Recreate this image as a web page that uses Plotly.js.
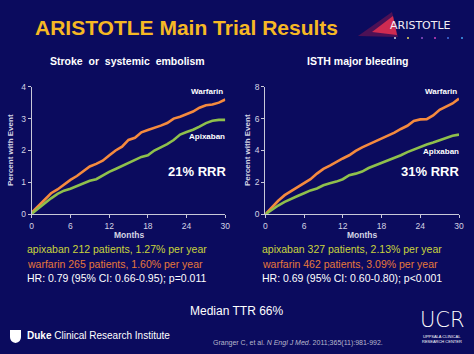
<!DOCTYPE html>
<html>
<head>
<meta charset="utf-8">
<script src="https://cdn.plot.ly/plotly-3.0.1.min.js"></script>
<style>html,body{margin:0;padding:0;background:#0b0b5e;}#chart{width:474px;height:354px;}</style>
</head>
<body>
<div id="chart"></div>
<script>
// Months on the x axis
const months = [0,1,2,3,4,5,6,7,8,9,10,11,12,13,14,15,16,17,18,19,20,21,22,23,24,25,26,27,28,29,30];
// Stroke or systemic embolism (percent with event)
const strokeWarfarin = [0.05,0.25,0.45,0.66,0.78,0.93,1.08,1.2,1.35,1.5,1.58,1.68,1.84,2.0,2.12,2.33,2.4,2.57,2.64,2.7,2.78,2.86,3.0,3.06,3.14,3.22,3.34,3.42,3.44,3.5,3.6];
const strokeApixaban = [0.02,0.18,0.36,0.5,0.64,0.74,0.8,0.88,0.98,1.05,1.1,1.22,1.33,1.42,1.52,1.6,1.7,1.8,1.85,2.0,2.1,2.2,2.33,2.5,2.58,2.65,2.75,2.86,2.93,2.96,2.96];
// ISTH major bleeding (percent with event)
const bleedWarfarin = [0,0.45,0.85,1.2,1.45,1.65,1.9,2.2,2.55,2.85,3.05,3.3,3.5,3.7,3.98,4.2,4.38,4.56,4.75,4.95,5.12,5.35,5.55,5.85,5.95,5.96,6.2,6.55,6.75,6.95,7.25];
const bleedApixaban = [0,0.3,0.55,0.78,0.98,1.15,1.32,1.5,1.62,1.82,1.95,2.05,2.2,2.45,2.55,2.68,2.9,3.05,3.2,3.4,3.55,3.7,3.9,4.05,4.25,4.38,4.5,4.65,4.78,4.92,5.0];
const xTicks = [0,6,12,18,24,30];
const leftYTicks = [0,1,2,3,4];
const rightYTicks = [0,2,4,6,8];
const panelTitles = ["Stroke or systemic embolism", "ISTH major bleeding"];
const rrr = ["21% RRR", "31% RRR"];
const leftStats = ["apixaban 212 patients, 1.27% per year","warfarin 265 patients, 1.60% per year","HR: 0.79 (95% CI: 0.66-0.95); p=0.011"];
const rightStats = ["apixaban 327 patients, 2.13% per year","warfarin 462 patients, 3.09% per year","HR: 0.69 (95% CI: 0.60-0.80); p<0.001"];

const W = 474, H = 354;
const px = x => x / W, py = y => 1 - y / H;
const BG = '#0b0b5e';
const ORANGE = '#f58a3e', GREEN = '#8fc04c';
const FONT = 'Arial, "Liberation Sans", sans-serif';

const traces = [
  {x: months, y: strokeWarfarin, xaxis:'x', yaxis:'y', mode:'lines', line:{color:ORANGE, width:2.6}},
  {x: months, y: strokeApixaban, xaxis:'x', yaxis:'y', mode:'lines', line:{color:GREEN, width:2.6}},
  {x: months, y: bleedWarfarin, xaxis:'x2', yaxis:'y2', mode:'lines', line:{color:ORANGE, width:2.6}},
  {x: months, y: bleedApixaban, xaxis:'x2', yaxis:'y2', mode:'lines', line:{color:GREEN, width:2.6}}
];

const axBase = {showgrid:false, zeroline:false, showline:true, linecolor:'#c8c8d8', linewidth:1,
  ticks:'outside', ticklen:3, tickcolor:'#c8c8d8', tickfont:{family:FONT, size:8.5, color:'#d4d4e4'}, fixedrange:true};
const yDom = [py(214.3), py(86.7)];

const ann = [];
function t(text, x, y, size, color, opts) {
  ann.push(Object.assign({text, x:px(x), y:py(y), xref:'paper', yref:'paper', showarrow:false,
    font:{family:FONT, size, color}, xanchor:'center', yanchor:'middle'}, opts||{}));
}
t('<b>ARISTOTLE Main Trial Results</b>', 186, 27, 21, '#f6b824');
t('<b>' + panelTitles[0].replace(/ /g,'  ') + '</b>', 127, 61, 10.5, '#ffffff');
t('<b>' + panelTitles[1] + '</b>', 358, 61, 10.5, '#ffffff');
[[0,207,91,137],[1,441,91,151]].forEach(([i,x,yw,ya]) => {
  t('<b>Warfarin</b>', x, yw, 8, '#ffffff');
  t('<b>Apixaban</b>', x, ya, 8, '#ffffff');
});
t('<b>' + rrr[0] + '</b>', 197, 171, 13, '#ffffff');
t('<b>' + rrr[1] + '</b>', 430, 171, 13, '#ffffff');
t('<b>Months</b>', 128.5, 235, 8.5, '#d4d4e4');
t('<b>Months</b>', 362, 235, 8.5, '#d4d4e4');
t('<b>Percent with Event</b>', 10, 150, 8, '#d4d4e4', {textangle:-90});
t('<b>Percent with Event</b>', 247, 150, 8, '#d4d4e4', {textangle:-90});
const statColors = ['#c9d43c', '#e6793a', '#ffffff'];
[249, 264, 278].forEach((y, i) => {
  t(leftStats[i], 25, y, 10.5, statColors[i], {xanchor:'left'});
  t(rightStats[i], 260, y, 10.5, statColors[i], {xanchor:'left'});
});
t('Median TTR 66%', 236, 311, 12, '#ffffff');
t('<b>Duke</b> Clinical Research Institute', 25, 335, 10, '#ffffff', {xanchor:'left'});
t('Granger C, et al. <i>N Engl J Med</i>. 2011;365(11):981-992.', 298, 343, 7, '#b8b8cc');
t('UCR', 442, 320, 22, '#ffffff', {font:{family:'"DejaVu Sans", sans-serif', size:21, color:'#ffffff', weight:200}});
t('UPPSALA CLINICAL', 442, 336, 4, '#ffffff');
t('RESEARCH CENTER', 442, 341, 4, '#ffffff');
t('ARISTOTLE', 420, 26, 11, '#f0e8f0', {font:{family:'"DejaVu Sans", sans-serif', size:11, color:'#f4eef4'}});

const shapes = [
  {type:'path', xref:'paper', yref:'paper', layer:'below',
   path:`M ${px(358)},${py(36)} L ${px(392)},${py(12)} L ${px(398)},${py(37)} Z`, fillcolor:'rgba(200,30,70,0.35)', line:{width:0}},
  {type:'path', xref:'paper', yref:'paper', layer:'below',
   path:`M ${px(372)},${py(32)} L ${px(393)},${py(16)} L ${px(397)},${py(35)} Z`, fillcolor:'rgba(240,50,80,0.8)', line:{width:0}},
  {type:'path', xref:'paper', yref:'paper',
   path:`M ${px(10)},${py(330)} L ${px(21)},${py(330)} L ${px(21)},${py(337)} Q ${px(21)},${py(342)} ${px(15.5)},${py(343)} Q ${px(10)},${py(342)} ${px(10)},${py(337)} Z`,
   fillcolor:'#ffffff', line:{width:0}}
];
const dotColors = ['#d8d8e8','#e8d860','#9050c8','#d040c0','#4070e0','#40a0f0'];
[395,408,422,435,448,462].forEach((x,i) => {
  shapes.push({type:'circle', xref:'paper', yref:'paper', x0:px(x-1), x1:px(x+1), y0:py(39), y1:py(37), fillcolor:dotColors[i], line:{width:0}});
});

const layout = {
  width: W, height: H, margin:{l:0,r:0,t:0,b:0},
  paper_bgcolor: BG, plot_bgcolor: BG, showlegend:false,
  xaxis: Object.assign({}, axBase, {domain:[px(31.7), px(225.3)], range:[0,30], tickvals:xTicks, anchor:'y'}),
  yaxis: Object.assign({}, axBase, {domain:yDom, range:[0,4], tickvals:leftYTicks, anchor:'x'}),
  xaxis2: Object.assign({}, axBase, {domain:[px(265.3), px(459)], range:[0,30], tickvals:xTicks, anchor:'y2'}),
  yaxis2: Object.assign({}, axBase, {domain:yDom, range:[0,8], tickvals:rightYTicks, anchor:'x2'}),
  annotations: ann, shapes: shapes
};
Plotly.newPlot('chart', traces, layout, {displayModeBar:false, staticPlot:true});
</script>
</body>
</html>
